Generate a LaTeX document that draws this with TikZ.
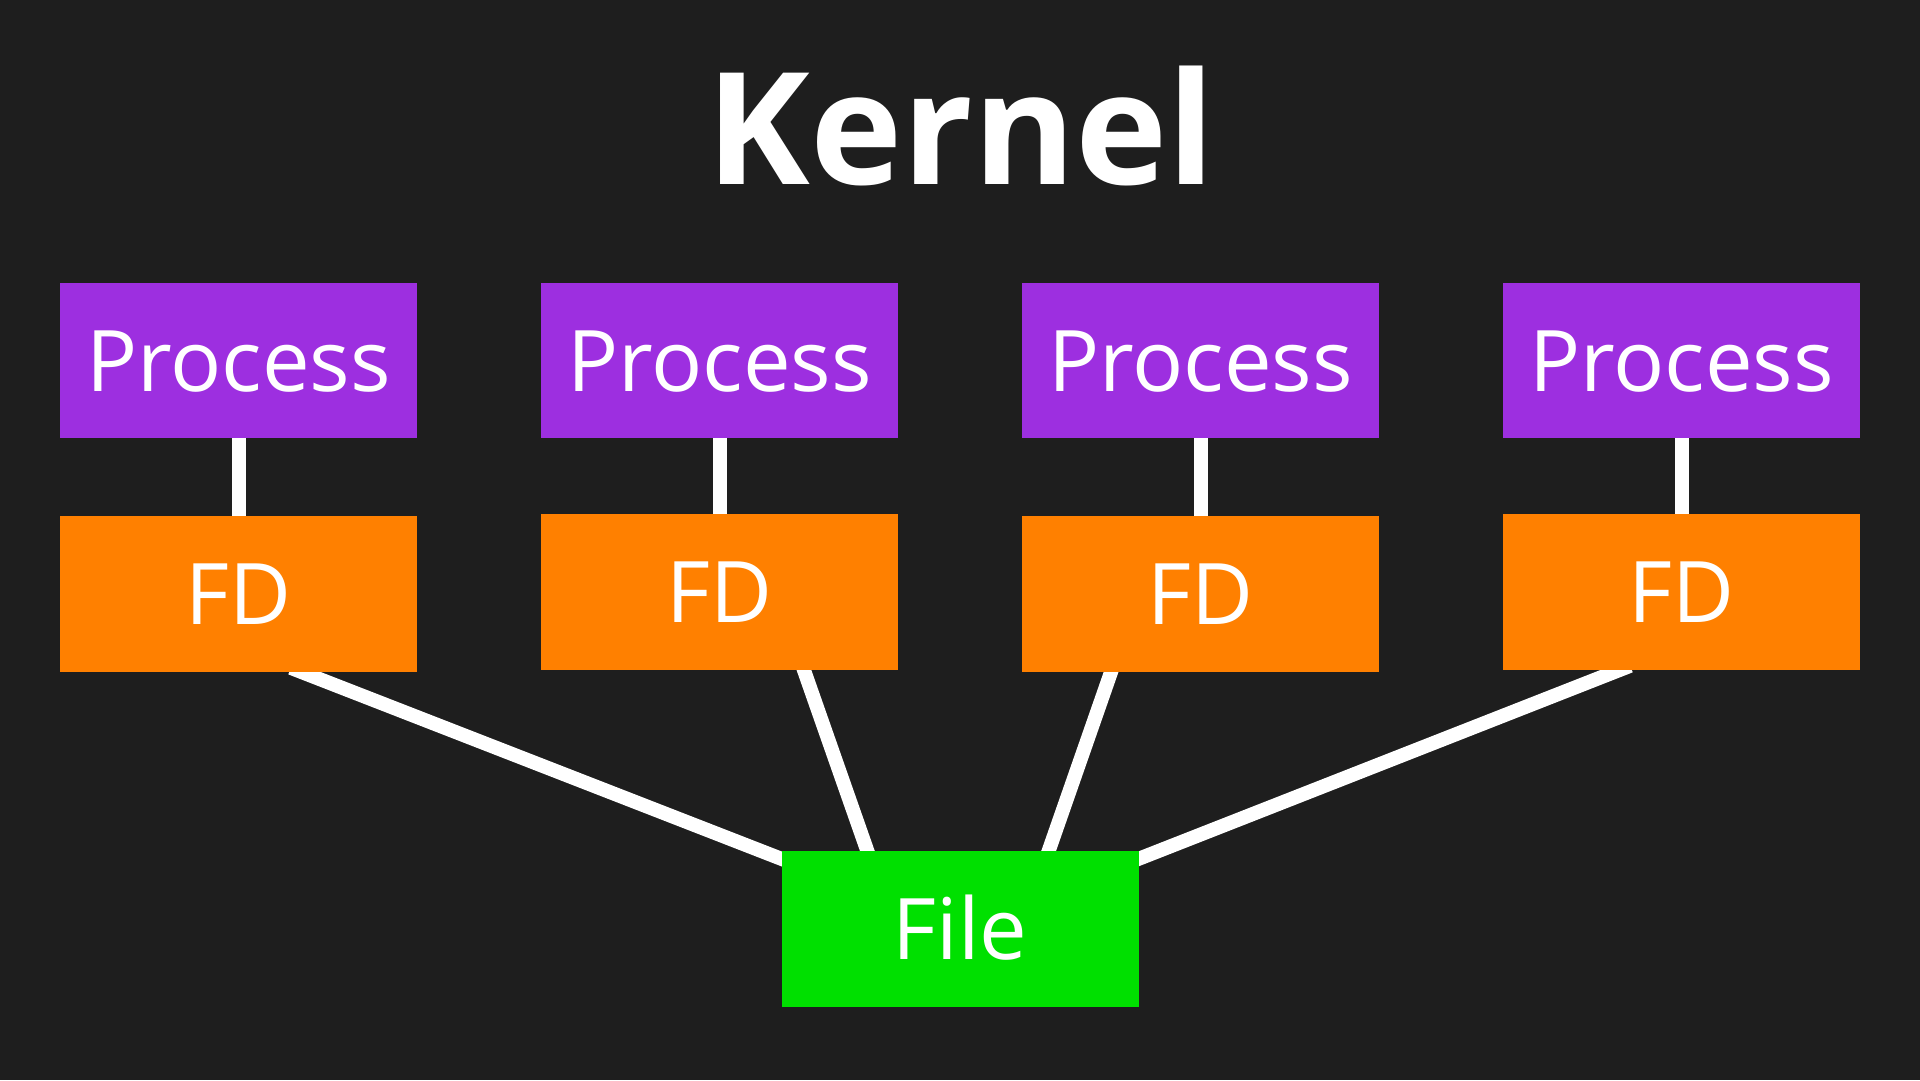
\documentclass[tikz,border=0pt]{standalone}
\usepackage{fontspec}
\setmainfont{Open Sans}
\usetikzlibrary{calc}
\definecolor{bg}{HTML}{1E1E1E}
\definecolor{procpurple}{HTML}{9D2FE0}
\definecolor{fdorange}{HTML}{FF8000}
\definecolor{filegreen}{HTML}{00E000}
\pgfdeclarelayer{backfill}
\pgfdeclarelayer{lines}
\pgfsetlayers{backfill,lines,main}
\tikzset{
  box/.style={draw=none, inner sep=0pt, minimum width=357pt, minimum height=155pt,
    text=white, font=\fontsize{85}{100}\selectfont, text height=61pt, text depth=0pt},
  procbox/.style={box, fill=procpurple},
  fdbox/.style={box, fill=fdorange, minimum height=156pt},
  filebox/.style={box, fill=filegreen, minimum height=156pt},
  link/.style={draw=white, line width=14pt, line cap=butt},
  slant/.style={link, shorten <=-12pt, shorten >=-12pt}
}
\begin{document}
\begin{tikzpicture}[x=1pt, y=-1pt]
  \useasboundingbox (0,0) rectangle (1920,1080);
  \begin{pgfonlayer}{backfill}
    \fill[bg] (0,0) rectangle (1920,1080);
  \end{pgfonlayer}
  \node[anchor=base, text=white, inner sep=0pt, font=\fontsize{156}{190}\selectfont\bfseries] (title) at (961,184) {Kernel};

  \node[procbox] (p1) at (238.5,360.5) {Process};
  \node[procbox] (p2) at (719.5,360.5) {Process};
  \node[procbox] (p3) at (1200.5,360.5) {Process};
  \node[procbox] (p4) at (1681.5,360.5) {Process};

  \node[fdbox] (fd1) at (238.5,594) {FD};
  \node[fdbox] (fd2) at (719.5,592) {FD};
  \node[fdbox] (fd3) at (1200.5,594) {FD};
  \node[fdbox] (fd4) at (1681.5,592) {FD};

  \node[filebox] (file) at (960,929) {File};

  \begin{pgfonlayer}{lines}
    \foreach \i in {1,2,3,4} {
      \draw[link] (p\i.south) -- (fd\i.north);
    }
    \draw[slant] ($(fd1.south)+(63.5,0)$) -- ($(file.north west)+(0,8)$);
    \draw[slant] ($(fd2.south)+(84.5,0)$) -- ($(file.north west)+(86,0)$);
    \draw[slant] ($(fd3.south)+(-89.5,0)$) -- ($(file.north east)+(-90,0)$);
    \draw[slant] ($(fd4.south)+(-62.5,0)$) -- ($(file.north east)+(0,8)$);
  \end{pgfonlayer}
\end{tikzpicture}
\end{document}
